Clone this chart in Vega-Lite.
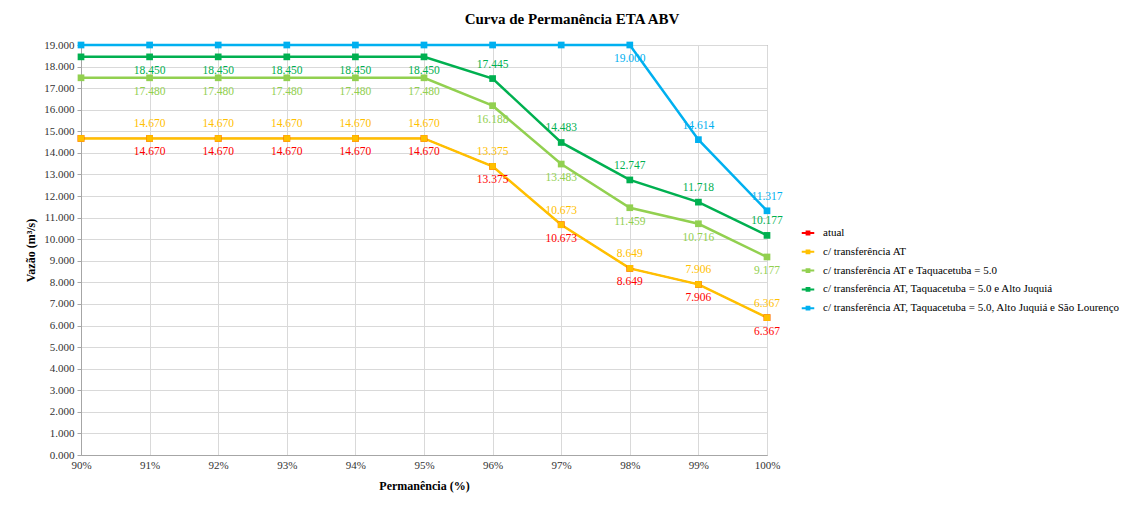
{
  "$schema": "https://vega.github.io/schema/vega-lite/v6.json",
  "width": 686,
  "height": 410,
  "autosize": {"type": "none"},
  "padding": {"left": 81, "top": 45, "right": 374, "bottom": 50},
  "background": "white",
  "config": {"font": "Liberation Serif", "view": {"stroke": "#7f7f7f", "strokeWidth": 1}},
  "title": {"text": "Curva de Permanência ETA ABV", "font": "Liberation Serif", "fontSize": 15, "fontWeight": "bold", "color": "#000000", "anchor": "middle", "dx": 148, "offset": 12},
  "data": {"values": [
    {"s": "atual", "x": 90, "y": 14.67}, {"s": "atual", "x": 91, "y": 14.67}, {"s": "atual", "x": 92, "y": 14.67}, {"s": "atual", "x": 93, "y": 14.67}, {"s": "atual", "x": 94, "y": 14.67}, {"s": "atual", "x": 95, "y": 14.67}, {"s": "atual", "x": 96, "y": 13.375}, {"s": "atual", "x": 97, "y": 10.673}, {"s": "atual", "x": 98, "y": 8.649}, {"s": "atual", "x": 99, "y": 7.906}, {"s": "atual", "x": 100, "y": 6.367},
    {"s": "c/ transferência AT", "x": 90, "y": 14.67}, {"s": "c/ transferência AT", "x": 91, "y": 14.67}, {"s": "c/ transferência AT", "x": 92, "y": 14.67}, {"s": "c/ transferência AT", "x": 93, "y": 14.67}, {"s": "c/ transferência AT", "x": 94, "y": 14.67}, {"s": "c/ transferência AT", "x": 95, "y": 14.67}, {"s": "c/ transferência AT", "x": 96, "y": 13.375}, {"s": "c/ transferência AT", "x": 97, "y": 10.673}, {"s": "c/ transferência AT", "x": 98, "y": 8.649}, {"s": "c/ transferência AT", "x": 99, "y": 7.906}, {"s": "c/ transferência AT", "x": 100, "y": 6.367},
    {"s": "c/ transferência AT e Taquacetuba = 5.0", "x": 90, "y": 17.48}, {"s": "c/ transferência AT e Taquacetuba = 5.0", "x": 91, "y": 17.48}, {"s": "c/ transferência AT e Taquacetuba = 5.0", "x": 92, "y": 17.48}, {"s": "c/ transferência AT e Taquacetuba = 5.0", "x": 93, "y": 17.48}, {"s": "c/ transferência AT e Taquacetuba = 5.0", "x": 94, "y": 17.48}, {"s": "c/ transferência AT e Taquacetuba = 5.0", "x": 95, "y": 17.48}, {"s": "c/ transferência AT e Taquacetuba = 5.0", "x": 96, "y": 16.188}, {"s": "c/ transferência AT e Taquacetuba = 5.0", "x": 97, "y": 13.483}, {"s": "c/ transferência AT e Taquacetuba = 5.0", "x": 98, "y": 11.459}, {"s": "c/ transferência AT e Taquacetuba = 5.0", "x": 99, "y": 10.716}, {"s": "c/ transferência AT e Taquacetuba = 5.0", "x": 100, "y": 9.177},
    {"s": "c/ transferência AT, Taquacetuba = 5.0 e Alto Juquiá", "x": 90, "y": 18.45}, {"s": "c/ transferência AT, Taquacetuba = 5.0 e Alto Juquiá", "x": 91, "y": 18.45}, {"s": "c/ transferência AT, Taquacetuba = 5.0 e Alto Juquiá", "x": 92, "y": 18.45}, {"s": "c/ transferência AT, Taquacetuba = 5.0 e Alto Juquiá", "x": 93, "y": 18.45}, {"s": "c/ transferência AT, Taquacetuba = 5.0 e Alto Juquiá", "x": 94, "y": 18.45}, {"s": "c/ transferência AT, Taquacetuba = 5.0 e Alto Juquiá", "x": 95, "y": 18.45}, {"s": "c/ transferência AT, Taquacetuba = 5.0 e Alto Juquiá", "x": 96, "y": 17.445}, {"s": "c/ transferência AT, Taquacetuba = 5.0 e Alto Juquiá", "x": 97, "y": 14.483}, {"s": "c/ transferência AT, Taquacetuba = 5.0 e Alto Juquiá", "x": 98, "y": 12.747}, {"s": "c/ transferência AT, Taquacetuba = 5.0 e Alto Juquiá", "x": 99, "y": 11.718}, {"s": "c/ transferência AT, Taquacetuba = 5.0 e Alto Juquiá", "x": 100, "y": 10.177},
    {"s": "c/ transferência AT, Taquacetuba = 5.0, Alto Juquiá e São Lourenço", "x": 90, "y": 19.0}, {"s": "c/ transferência AT, Taquacetuba = 5.0, Alto Juquiá e São Lourenço", "x": 91, "y": 19.0}, {"s": "c/ transferência AT, Taquacetuba = 5.0, Alto Juquiá e São Lourenço", "x": 92, "y": 19.0}, {"s": "c/ transferência AT, Taquacetuba = 5.0, Alto Juquiá e São Lourenço", "x": 93, "y": 19.0}, {"s": "c/ transferência AT, Taquacetuba = 5.0, Alto Juquiá e São Lourenço", "x": 94, "y": 19.0}, {"s": "c/ transferência AT, Taquacetuba = 5.0, Alto Juquiá e São Lourenço", "x": 95, "y": 19.0}, {"s": "c/ transferência AT, Taquacetuba = 5.0, Alto Juquiá e São Lourenço", "x": 96, "y": 19.0}, {"s": "c/ transferência AT, Taquacetuba = 5.0, Alto Juquiá e São Lourenço", "x": 97, "y": 19.0}, {"s": "c/ transferência AT, Taquacetuba = 5.0, Alto Juquiá e São Lourenço", "x": 98, "y": 19.0}, {"s": "c/ transferência AT, Taquacetuba = 5.0, Alto Juquiá e São Lourenço", "x": 99, "y": 14.614}, {"s": "c/ transferência AT, Taquacetuba = 5.0, Alto Juquiá e São Lourenço", "x": 100, "y": 11.317}
  ]},
  "encoding": {
    "x": {"field": "x", "type": "quantitative", "scale": {"domain": [90, 100], "nice": false, "zero": false},
      "axis": {"values": [90, 91, 92, 93, 94, 95, 96, 97, 98, 99, 100], "labelExpr": "datum.value + '%'", "title": "Permanência (%)", "titleFont": "Liberation Serif", "titleFontSize": 12, "titleFontWeight": "bold", "titleColor": "#000000", "titlePadding": 10, "labelFont": "Liberation Serif", "labelFontSize": 11, "labelColor": "#333333", "labelPadding": 4, "ticks": false, "grid": true, "gridColor": "#d9d9d9", "domainColor": "#a6a6a6", "labelFlush": false}},
    "y": {"field": "y", "type": "quantitative", "scale": {"domain": [0, 19], "nice": false},
      "axis": {"values": [0, 1, 2, 3, 4, 5, 6, 7, 8, 9, 10, 11, 12, 13, 14, 15, 16, 17, 18, 19], "format": ".3f", "title": "Vazão (m³/s)", "titleFont": "Liberation Serif", "titleFontSize": 12, "titleFontWeight": "bold", "titleColor": "#000000", "titlePadding": 6, "labelFont": "Liberation Serif", "labelFontSize": 11, "labelColor": "#333333", "labelPadding": 3, "ticks": true, "tickSize": 4, "tickColor": "#a6a6a6", "grid": true, "gridColor": "#d9d9d9", "domainColor": "#a6a6a6", "labelFlush": false}}
  },
  "layer": [
    {"mark": {"type": "line"},
      "encoding": {
        "strokeWidth": {"condition": {"test": "datum.s == 'atual'", "value": 1.2}, "value": 2.5},
        "color": {"field": "s", "type": "nominal", "sort": null,
        "scale": {"domain": ["atual", "c/ transferência AT", "c/ transferência AT e Taquacetuba = 5.0", "c/ transferência AT, Taquacetuba = 5.0 e Alto Juquiá", "c/ transferência AT, Taquacetuba = 5.0, Alto Juquiá e São Lourenço"], "range": ["#ff0000", "#ffc000", "#92d050", "#00b050", "#00b0f0"]},
        "legend": {"title": null, "orient": "none", "legendX": 721, "legendY": 182, "symbolType": "M -1.25 0 L 1.25 0 M -0.28 -0.28 L 0.28 -0.28 L 0.28 0.28 L -0.28 0.28 Z", "symbolSize": 100, "symbolStrokeWidth": 2, "labelFont": "Liberation Serif", "labelFontSize": 11, "labelColor": "#000000", "labelOffset": 9, "labelLimit": 400, "rowPadding": 6.8,
          "encode": {"symbols": {"update": {"fill": {"scale": "color", "field": "value"}, "stroke": {"scale": "color", "field": "value"}, "strokeWidth": {"value": 2}, "opacity": {"value": 1}}}}}}}},
    {"mark": {"type": "point", "shape": "square", "filled": true, "size": 45, "opacity": 1},
      "encoding": {"color": {"field": "s", "type": "nominal", "legend": null}}},
    {"transform": [{"filter": "datum.x > 90 && (datum.s == 'atual' || datum.s == 'c/ transferência AT e Taquacetuba = 5.0' || (datum.s == 'c/ transferência AT, Taquacetuba = 5.0 e Alto Juquiá' && datum.x <= 95) || (datum.s == 'c/ transferência AT, Taquacetuba = 5.0, Alto Juquiá e São Lourenço' && datum.x == 98))"}],
      "mark": {"type": "text", "font": "Liberation Serif", "fontSize": 11.5, "dy": 14, "baseline": "middle"},
      "encoding": {"text": {"field": "y", "type": "quantitative", "format": ".3f"}, "color": {"field": "s", "type": "nominal", "legend": null}}},
    {"transform": [{"filter": "datum.x > 90 && (datum.s == 'c/ transferência AT' || (datum.s == 'c/ transferência AT, Taquacetuba = 5.0 e Alto Juquiá' && datum.x > 95) || (datum.s == 'c/ transferência AT, Taquacetuba = 5.0, Alto Juquiá e São Lourenço' && datum.x >= 99))"}],
      "mark": {"type": "text", "font": "Liberation Serif", "fontSize": 11.5, "dy": -14, "baseline": "middle"},
      "encoding": {"text": {"field": "y", "type": "quantitative", "format": ".3f"}, "color": {"field": "s", "type": "nominal", "legend": null}}}
  ]
}
